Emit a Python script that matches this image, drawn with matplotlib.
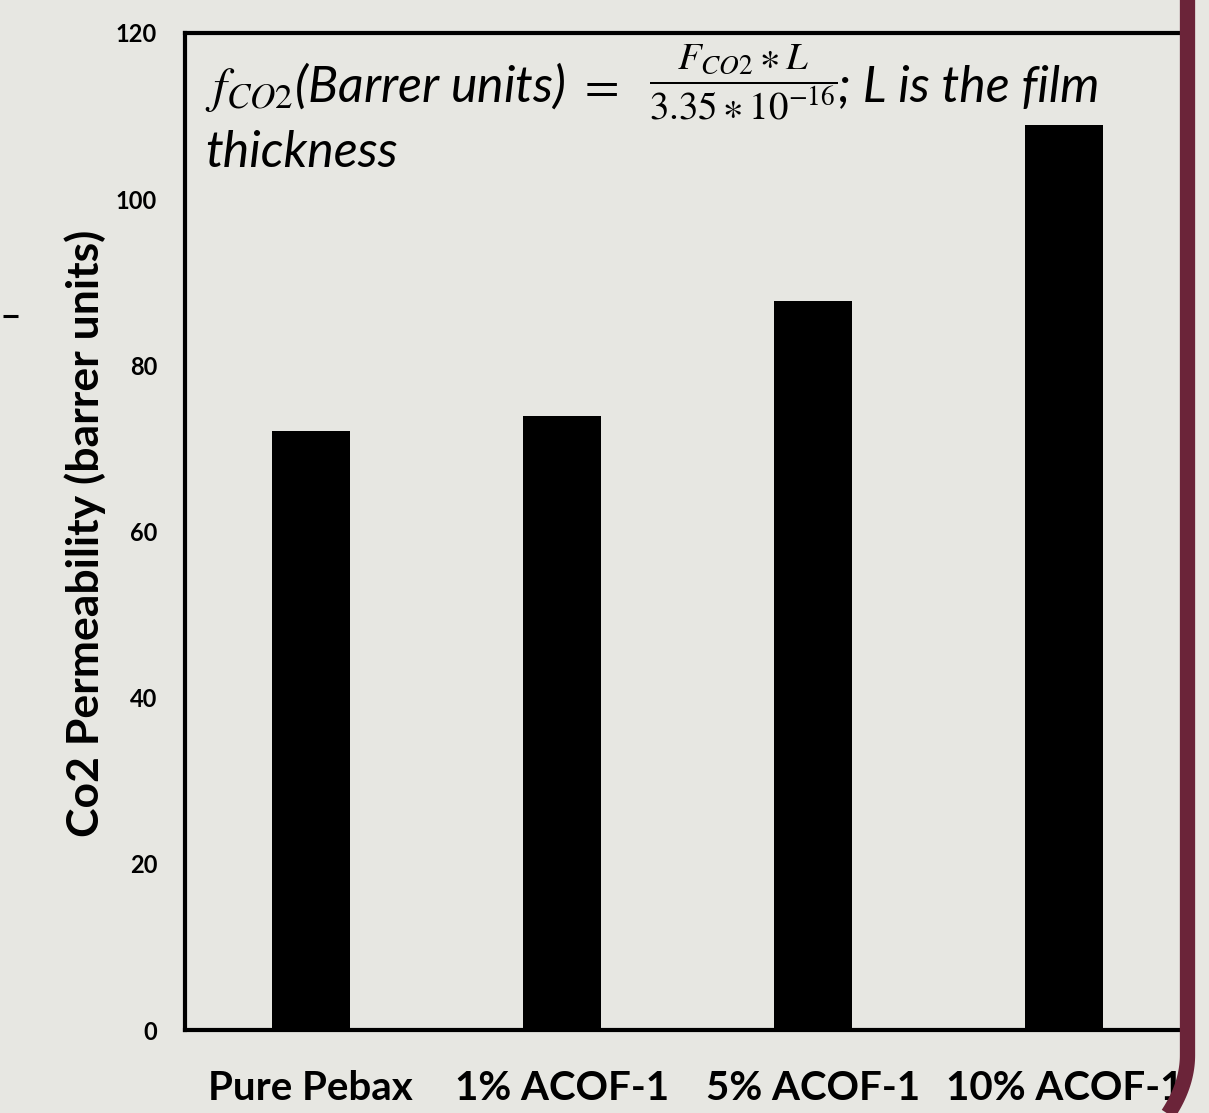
import matplotlib
matplotlib.use("Agg")
import matplotlib.pyplot as plt
from matplotlib.lines import Line2D
import numpy as np

categories = ["Pure Pebax", "1% ACOF-1", "5% ACOF-1", "10% ACOF-1"]
values = [72.1, 73.9, 87.8, 108.9]
yticks = [0, 20, 40, 60, 80, 100, 120]
ylabel = "Co2 Permeability (barrer units)"

plt.rcParams['mathtext.fontset'] = 'custom'
plt.rcParams['mathtext.rm'] = 'STIXGeneral'
plt.rcParams['mathtext.it'] = 'STIXGeneral:italic'
plt.rcParams['mathtext.sf'] = 'Lato:italic'

W, H = 1209, 1113
bg = '#e7e7e2'
fig = plt.figure(figsize=(W/100, H/100), dpi=100, facecolor=bg)
ax = fig.add_axes([185/W, (H-1030)/H, (1190-185)/W, (1030-33)/H])
ax.set_facecolor(bg)

x = np.arange(len(categories))
ax.bar(x, values, width=0.31, color='black')
ax.set_xlim(-0.5, len(categories)-0.5)
ax.set_ylim(0, 120)
ax.set_yticks(yticks)
ax.set_xticks(x)
ax.set_xticklabels(categories, fontfamily='Lato', fontweight='bold', fontsize=29)
ax.set_yticklabels([str(t) for t in yticks], fontfamily='Lato', fontweight='bold', fontsize=17)
ax.tick_params(axis='both', length=0)
ax.tick_params(axis='y', pad=20)
ax.tick_params(axis='x', pad=29)
for s in ['left', 'top', 'bottom']:
    ax.spines[s].set_linewidth(3)
    ax.spines[s].set_color('black')
ax.spines['right'].set_visible(False)

fig.text(85/W, 1-533/H, ylabel, rotation=90, ha='center', va='center',
         fontfamily='Lato', fontweight='bold', fontsize=32)

# formula annotation, in pieces
fs = 36
fig.text(205/W, 1-102/H, r"$f_{CO2}$(Barrer units) $=$", ha='left', va='baseline',
         fontfamily='Lato', style='italic', fontsize=fs)
fig.text(743/W, 1-82/H, r"$\dfrac{F_{CO2}\ast L}{3.35\ast 10^{-16}}$", ha='center', va='center',
         fontsize=28)
fig.text(838/W, 1-102/H, "; L is the film", ha='left', va='baseline',
         fontfamily='Lato', style='italic', fontsize=fs)
fig.text(205/W, 1-167/H, "thickness", ha='left', va='baseline',
         fontfamily='Lato', style='italic', fontsize=fs)

# decorative maroon border on the right
t = np.linspace(0, 1, 30)
xs = list(np.full(2, 1187.5)) + list(1187.5 - 20*t**2)
ys = [0, 1055] + list(1055 + 60*t)
fig.add_artist(Line2D(np.array(xs)/W, 1-np.array(ys)/H, transform=fig.transFigure,
                      color='#6b2439', lw=11, solid_capstyle='butt'))
fig.add_artist(Line2D(np.array([3, 18])/W, 1-np.array([316, 316])/H, transform=fig.transFigure,
                      color='black', lw=2.2, solid_capstyle='butt'))

fig.savefig("out.png", dpi=100, facecolor=bg)
